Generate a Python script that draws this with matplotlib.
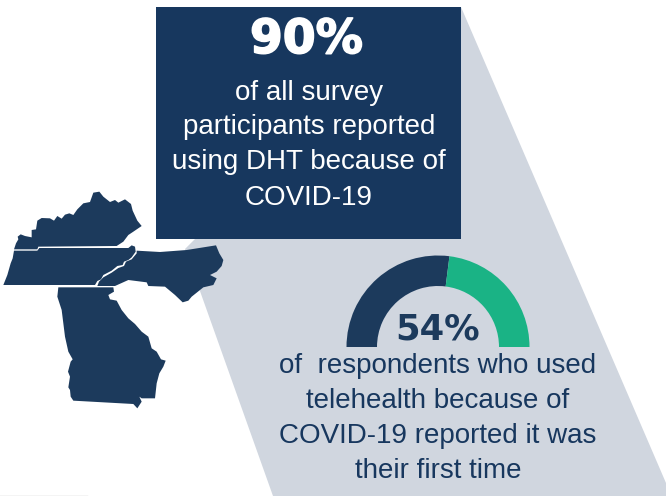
import matplotlib.pyplot as plt
import matplotlib.patheffects as pe
from matplotlib.patches import Polygon, Rectangle, Wedge

plt.rcParams['font.family'] = ['Liberation Sans', 'DejaVu Sans']

navy = '#17375e'
map_navy = '#1c3a5c'
grey = '#d0d6df'
green = '#1ab385'

# headline numbers
all_share = 90
first_time_share = 54

top_lines = ['of all survey', 'participants reported', 'using DHT because of', 'COVID-19']
top_baselines = [100, 134, 169, 205]
bottom_lines = ['of  respondents who used', 'telehealth because of', 'COVID-19 reported it was', 'their first time']
bottom_baselines = [373, 408, 443, 478]

# state outlines, traced at 3x around (0, 180)
kentucky = [(42, 208), (48, 190), (55, 178), (53, 170), (62, 163), (75, 168), (95, 172), (95, 150), (108, 148),
            (112, 122), (125, 114), (150, 115), (162, 122), (172, 108), (185, 116), (195, 104), (208, 100),
            (220, 105), (232, 88), (250, 70), (270, 66), (280, 38), (298, 35), (310, 50), (330, 66), (345, 60),
            (355, 68), (375, 58), (393, 72), (398, 92), (412, 122), (425, 138), (400, 155), (385, 165),
            (370, 185), (350, 198), (115, 200), (112, 208)]
tennessee = [(42, 212), (112, 212), (118, 204), (385, 204), (395, 196), (405, 200), (407, 215), (395, 232),
             (385, 240), (372, 245), (368, 255), (352, 258), (335, 272), (310, 285), (303, 298), (292, 303),
             (285, 315), (10, 315), (22, 285), (32, 250), (38, 235)]
carolina = [(410, 212), (480, 216), (560, 210), (648, 196), (658, 220), (670, 240), (665, 258), (650, 275),
            (630, 285), (650, 295), (640, 315), (610, 322), (590, 338), (575, 350), (565, 362), (548, 367),
            (525, 345), (495, 320), (445, 318), (440, 307), (385, 300), (345, 318), (292, 318), (297, 305),
            (310, 292), (335, 278), (355, 264), (372, 258), (378, 245), (395, 238), (410, 220)]
georgia = [(175, 322), (340, 322), (342, 335), (325, 345), (330, 358), (350, 362), (365, 390), (385, 415),
           (405, 432), (425, 455), (445, 470), (455, 505), (470, 515), (483, 538), (497, 542), (490, 560),
           (478, 580), (470, 610), (465, 655), (425, 655), (418, 650), (425, 665), (412, 685), (400, 672),
           (220, 662), (212, 650), (210, 630), (205, 622), (210, 590), (204, 575), (212, 545), (218, 538),
           (205, 515), (195, 470), (185, 390), (172, 350)]
states = [kentucky, tennessee, carolina, georgia]

fig = plt.figure(figsize=(6.66, 4.96), dpi=100)
ax = fig.add_axes([0, 0, 1, 1])
ax.set_xlim(0, 666)
ax.set_ylim(496, 0)
ax.axis('off')

# grey wedge behind everything
ax.add_patch(Polygon([(461, 7), (666, 483), (666, 496), (273, 496), (185, 249), (195, 239)],
                     facecolor=grey, edgecolor='none', zorder=1))
ax.add_patch(Rectangle((156, 7), 305, 232, facecolor=navy, edgecolor='none', zorder=2))
ax.plot([0, 87], [495.5, 495.5], color='#c8c8c8', lw=1, zorder=1)

for state in states:
    pts = [(x / 3, 180 + y / 3) for x, y in state]
    ax.add_patch(Polygon(pts, facecolor=map_navy, edgecolor='none', zorder=3))

# top box text, thickened with a stroke to get the heavy look
big = ax.text(306.5, 53, f'{all_share}%', color='white', fontsize=34, family='DejaVu Sans', fontweight='bold',
              ha='center', va='baseline', zorder=4)
big.set_path_effects([pe.withStroke(linewidth=1.2, foreground='white')])
for line, y in zip(top_lines, top_baselines):
    ax.text(309, y, line, color='white', fontsize=20, ha='center', va='baseline', zorder=4)

# half-donut gauge, y axis is flipped so angles run clockwise from the right
cx, cy = 438, 347
split = 180 + first_time_share / 100 * 180
ax.add_patch(Wedge((cx, cy), 91.5, 180, split, width=30.5, facecolor=map_navy, edgecolor='none', zorder=3))
ax.add_patch(Wedge((cx, cy), 91.5, split, 360, width=30.5, facecolor=green, edgecolor='none', zorder=3))

ax.text(438, 339, f'{first_time_share}%', color=map_navy, fontsize=25.5, family='DejaVu Sans', fontweight='bold',
        ha='center', va='baseline', zorder=4)
for line, y in zip(bottom_lines, bottom_baselines):
    ax.text(438, y, line, color=navy, fontsize=20, ha='center', va='baseline', zorder=4)

fig.savefig('out.png', dpi=100)
